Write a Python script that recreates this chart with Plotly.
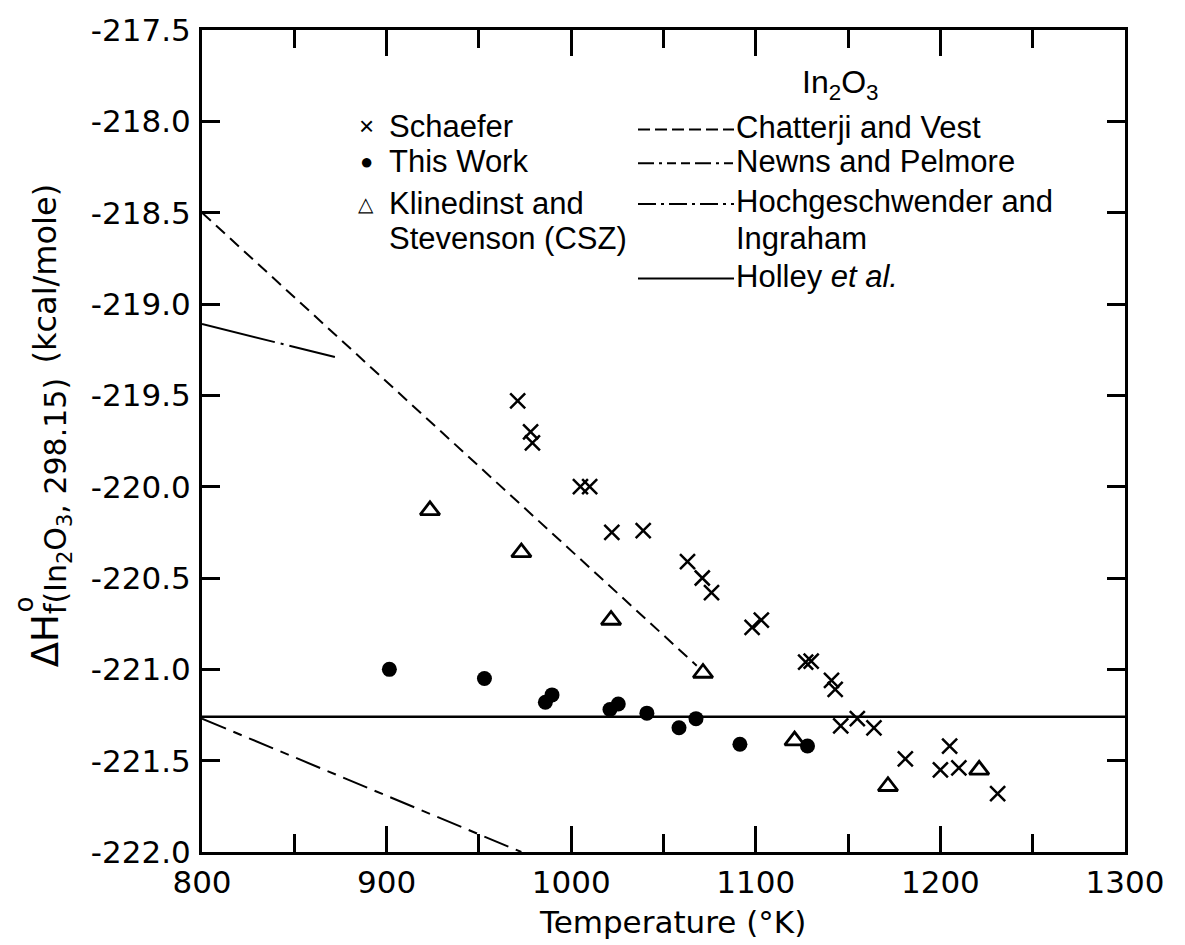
import plotly.graph_objects as go

# ---------------- data ----------------
schaefer_T = [971, 978, 979, 1005, 1010, 1022, 1039, 1063, 1071, 1076, 1098, 1103,
              1127, 1130, 1141, 1143, 1146, 1155, 1164, 1181, 1200, 1205, 1210, 1231]
schaefer_H = [-219.53, -219.70, -219.76, -220.00, -220.00, -220.25, -220.24, -220.41,
              -220.50, -220.58, -220.77, -220.73, -220.96, -220.955, -221.06, -221.11,
              -221.31, -221.27, -221.32, -221.49, -221.55, -221.42, -221.54, -221.68]

thiswork_T = [901.5, 953, 986, 989.6, 1021, 1025.5, 1041, 1058.4, 1067.6, 1091.4, 1128]
thiswork_H = [-221.00, -221.05, -221.18, -221.14, -221.22, -221.19, -221.24, -221.32,
              -221.27, -221.41, -221.42]

klinedinst_T = [923.5, 973, 1021.6, 1071.4, 1121, 1171.6, 1221]
klinedinst_H = [-220.13, -220.36, -220.73, -221.02, -221.39, -221.64, -221.55]

chatterji_T = [800, 1068]
chatterji_H = [-218.5, -220.98]
newns_T = [800, 973]
newns_H = [-221.27, -222.0]
hoch_T = [800, 872]
hoch_H = [-219.11, -219.29]
holley_T = [800, 1300]
holley_H = [-221.26, -221.26]

x_ticks = [800, 900, 1000, 1100, 1200, 1300]
x_minor = [850, 950, 1050, 1150, 1250]
y_ticks = [-222.0, -221.5, -221.0, -220.5, -220.0, -219.5, -219.0, -218.5, -218.0, -217.5]
y_ticktext = ["-222.0", "-221.5", "-221.0", "-220.5", "-220.0", "-219.5", "-219.0",
              "-218.5", "-218.0", "-217.5"]

# ---------------- layout geometry ----------------
W, H = 1185, 945
L, R, T, B = 202, 1125, 25, 852


def px(x):
    return (x - L) / (R - L)


def py(y):
    return (B - y) / (B - T)


BLACK = "#000000"
FONT = "Liberation Sans, Arial, sans-serif"
TICKFONT = "DejaVu Sans, sans-serif"

fig = go.Figure()

fig.add_trace(go.Scatter(x=chatterji_T, y=chatterji_H, mode="lines",
                         line=dict(color=BLACK, width=2, dash="12px,7px"),
                         showlegend=False, hoverinfo="skip"))
fig.add_trace(go.Scatter(x=newns_T, y=newns_H, mode="lines",
                         line=dict(color=BLACK, width=2, dash="26px,8px,9px,8px"),
                         showlegend=False, hoverinfo="skip"))
fig.add_trace(go.Scatter(x=hoch_T, y=hoch_H, mode="lines",
                         line=dict(color=BLACK, width=2, dash="75px,6px,3px,6px"),
                         showlegend=False, hoverinfo="skip"))
fig.add_trace(go.Scatter(x=holley_T, y=holley_H, mode="lines",
                         line=dict(color=BLACK, width=2.5),
                         showlegend=False, hoverinfo="skip"))

fig.add_trace(go.Scatter(x=schaefer_T, y=schaefer_H, mode="markers",
                         marker=dict(symbol="x-thin", size=15,
                                     line=dict(color=BLACK, width=2.5)),
                         showlegend=False))
fig.add_trace(go.Scatter(x=thiswork_T, y=thiswork_H, mode="markers",
                         marker=dict(symbol="circle", size=15, color=BLACK),
                         showlegend=False))
fig.add_trace(go.Scatter(x=klinedinst_T, y=klinedinst_H, mode="markers",
                         marker=dict(symbol="triangle-up-open", size=17, color=BLACK,
                                     line=dict(color=BLACK, width=2.8)),
                         showlegend=False))

# ---------------- legend (drawn manually) ----------------
ann = []


def text(x, y, s, size=31, xanchor="left", font=FONT, angle=0):
    ann.append(dict(x=px(x), y=py(y), xref="paper", yref="paper", text=s,
                    showarrow=False, xanchor=xanchor, yanchor="middle",
                    textangle=angle,
                    font=dict(family=font, size=size, color=BLACK)))


text(366, 122, "×", size=26, xanchor="center")
text(387, 122, "Schaefer")
text(366, 157, "●", size=22, xanchor="center")
text(387, 157, "This Work")
text(366, 200, "△", size=20, xanchor="center")
text(387, 200, "Klinedinst and")
text(387, 235, "Stevenson (CSZ)")

text(840, 80, "In<sub>2</sub>O<sub>3</sub>", size=32, xanchor="center")
text(734, 123, "Chatterji and Vest")
text(734, 157, "Newns and Pelmore")
text(734, 198, "Hochgeschwender and")
text(734, 235, "Ingraham")
text(734, 273, "Holley <i>et al.</i>")

shapes = []


def seg(y, dash):
    shapes.append(dict(type="line", xref="paper", yref="paper",
                       x0=px(638), x1=px(734), y0=py(y), y1=py(y),
                       line=dict(color=BLACK, width=2, dash=dash)))


seg(125, "12px,5px")
seg(159, "16px,5px,3px,5px,9px,5px,9px,5px")
seg(200, "18px,5px,3px,5px")
seg(275, "solid")

# x axis title
text(672, 922, "Temperature (°K)", size=31, xanchor="center", font=TICKFONT)

# y axis title, built from pieces (rotated)
text(45, 640, "ΔH", size=37, xanchor="center", font=TICKFONT, angle=-90)
text(24, 603, "o", size=26, xanchor="center", font=TICKFONT, angle=-90)
text(57, 494, "f(In<sub>2</sub>O<sub>3</sub>, 298.15)", size=30, xanchor="center",
     font=TICKFONT, angle=-90)
text(45, 270, "(kcal/mole)", size=32, xanchor="center", font=TICKFONT, angle=-90)

fig.update_layout(
    width=W, height=H,
    margin=dict(l=L, r=W - R, t=T, b=H - B),
    paper_bgcolor="white", plot_bgcolor="white",
    showlegend=False,
    annotations=ann, shapes=shapes,
)

fig.update_xaxes(range=[800, 1300], tickvals=x_ticks, ticktext=[str(v) for v in x_ticks],
                 ticks="inside", ticklen=26, tickwidth=2.5, tickcolor=BLACK,
                 showline=True, linewidth=3, linecolor=BLACK, mirror="ticks",
                 showgrid=False, zeroline=False,
                 tickfont=dict(family=TICKFONT, size=31, color=BLACK),
                 ticklabelstandoff=1,
                 minor=dict(tickvals=x_minor, ticks="inside", ticklen=18,
                            tickwidth=2.5, tickcolor=BLACK, showgrid=False))
fig.update_yaxes(range=[-222.0, -217.5], tickvals=y_ticks, ticktext=y_ticktext,
                 ticks="inside", ticklen=18, tickwidth=2.5, tickcolor=BLACK,
                 showline=True, linewidth=3, linecolor=BLACK, mirror="ticks",
                 showgrid=False, zeroline=False,
                 tickfont=dict(family=TICKFONT, size=31, color=BLACK),
                 ticklabelstandoff=2)

fig.write_html("out.html")
